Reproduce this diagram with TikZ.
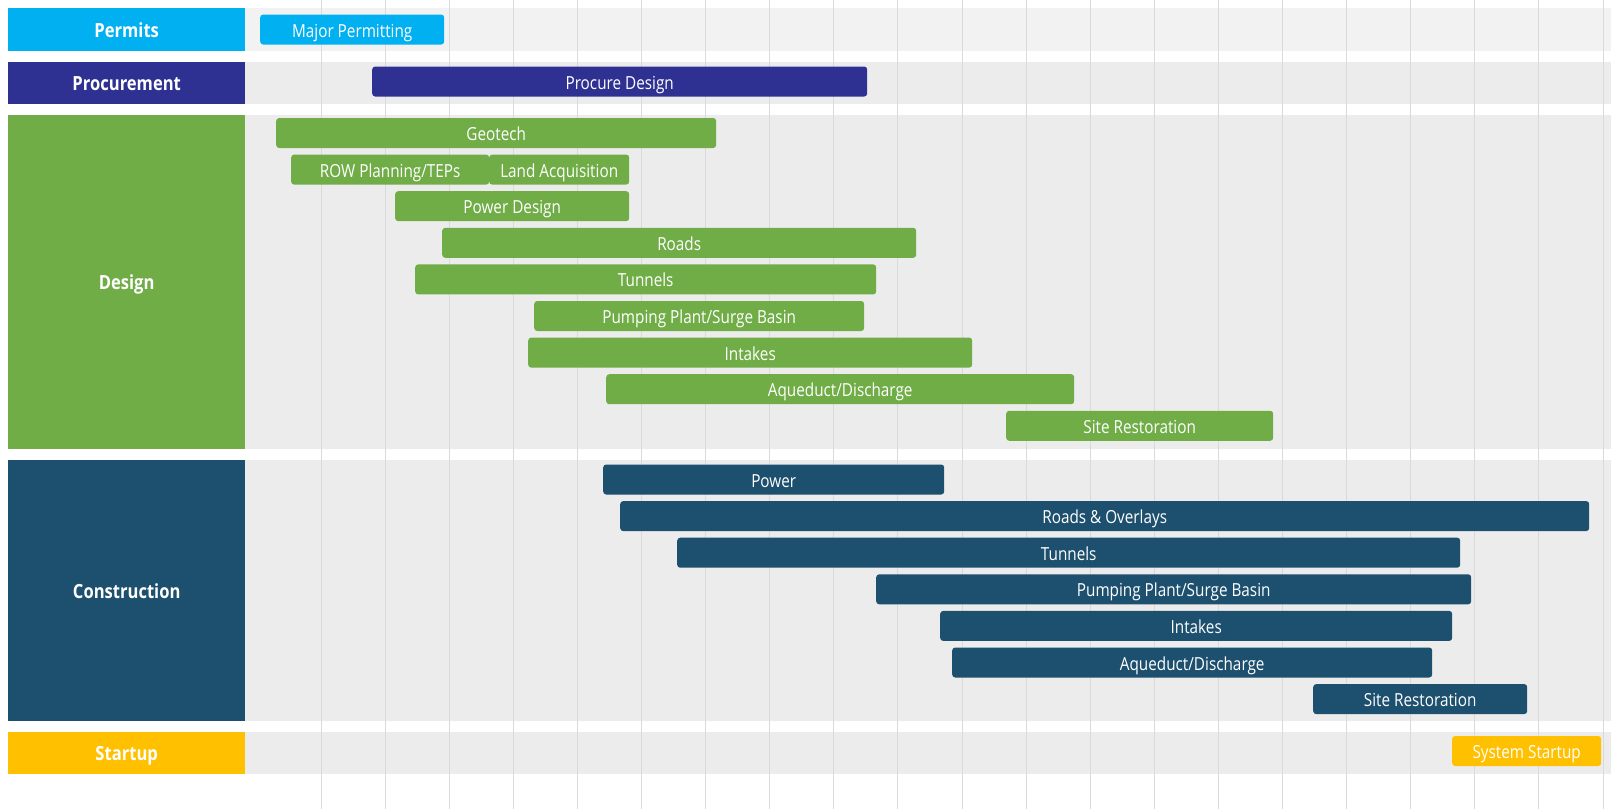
\documentclass[tikz,border=0pt]{standalone}
\usepackage{fontspec}
\setmainfont{Open Sans}[FakeStretch=0.85]
\usepackage{tikz}
\usetikzlibrary{positioning}
\definecolor{permitblue}{RGB}{0,176,240}
\definecolor{procblue}{RGB}{46,49,146}
\definecolor{designgreen}{RGB}{112,173,71}
\definecolor{constblue}{RGB}{29,80,110}
\definecolor{startyellow}{RGB}{255,192,0}
\definecolor{lanegray}{RGB}{236,236,236}
\definecolor{lanelight}{RGB}{242,242,242}
\definecolor{gridgray}{RGB}{218,218,218}

\begin{document}
\begin{tikzpicture}[
  x=1pt, y=-1pt,
  node distance=10.5pt,
  phase/.style={
    fill=#1,
    text=white,
    font=\bfseries\fontsize{19.5}{22}\selectfont,
    minimum width=237pt,
    inner sep=0pt,
    text height=15.5pt,
    text depth=0pt,
    anchor=north west
    },
  task/.style={
    fill=#1,
    rounded corners=3pt,
    text=white,
    font=\fontsize{18}{20}\selectfont,
    minimum height=30pt,
    inner sep=0pt,
    text height=15pt,
    text depth=0pt,
    anchor=west
    }
]

\useasboundingbox (0,0) rectangle (1611,809);
\coordinate (rim) at (1611,0);

% phase panels on the left
\node[phase=permitblue, minimum height=43pt] at (8,8) (permits) {Permits};
\node[phase=procblue, minimum height=42pt, below=of permits] (procurement) {Procurement};
\node[phase=designgreen, minimum height=334pt, below=of procurement] (design) {Design};
\node[phase=constblue, minimum height=261pt, below=of design] (construction) {Construction};
\node[phase=startyellow, minimum height=42pt, below=of construction] (startup) {Startup};

% gray lanes
\fill[lanelight] (permits.north east) rectangle (permits.south -| rim);
\foreach \Lane in {procurement, design, construction, startup}
  \fill[lanegray] (\Lane.north east) rectangle (\Lane.south -| rim);

% month grid
\foreach \k in {0,...,20}
  \draw[gridgray, line width=1pt] ({321+64.1*\k},0) -- ({321+64.1*\k},809);

\node[task=permitblue, minimum width=184pt] at (260,29.5) (majperm) {Major Permitting};

\node[task=procblue, minimum width=495pt] at (372,81.5) (procdes) {Procure Design};

\node[task=designgreen, minimum width=440pt] at (276,133) (geotech) {Geotech};
\node[task=designgreen, minimum width=198pt] at (291,169.6) (rowplan) {ROW Planning/TEPs};
\node[task=designgreen, minimum width=140pt] at (489,169.6) (landacq) {Land Acquisition};
\node[task=designgreen, minimum width=234pt] at (395,206.2) (powdes) {Power Design};
\node[task=designgreen, minimum width=474pt] at (442,242.8) (droads) {Roads};
\node[task=designgreen, minimum width=461pt] at (415,279.4) (dtunnels) {Tunnels};
\node[task=designgreen, minimum width=330pt] at (534,316) (dpump) {Pumping Plant/Surge Basin};
\node[task=designgreen, minimum width=444pt] at (528,352.6) (dintakes) {Intakes};
\node[task=designgreen, minimum width=468pt] at (606,389.2) (daqueduct) {Aqueduct/Discharge};
\node[task=designgreen, minimum width=267pt] at (1006,425.8) (dsite) {Site Restoration};

\node[task=constblue, minimum width=341pt] at (603,479.5) (cpower) {Power};
\node[task=constblue, minimum width=969pt] at (620,516.1) (croads) {Roads \& Overlays};
\node[task=constblue, minimum width=783pt] at (677,552.7) (ctunnels) {Tunnels};
\node[task=constblue, minimum width=595pt] at (876,589.3) (cpump) {Pumping Plant/Surge Basin};
\node[task=constblue, minimum width=512pt] at (940,625.9) (cintakes) {Intakes};
\node[task=constblue, minimum width=480pt] at (952,662.5) (caqueduct) {Aqueduct/Discharge};
\node[task=constblue, minimum width=214pt] at (1313,699.1) (csite) {Site Restoration};

\node[task=startyellow, minimum width=149pt] at (1452,751) (sysstart) {System Startup};

\end{tikzpicture}
\end{document}
